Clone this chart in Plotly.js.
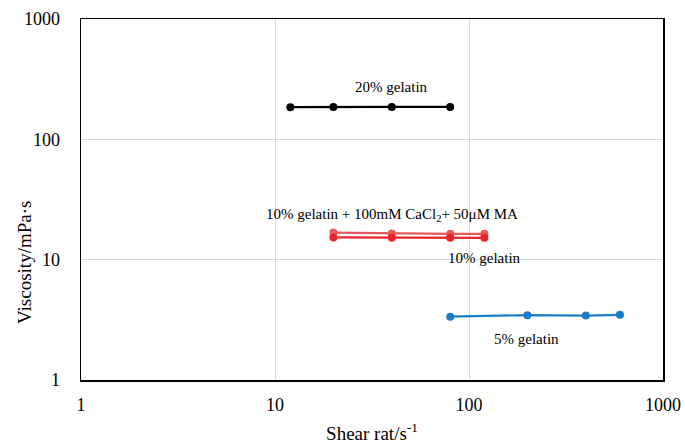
<!DOCTYPE html>
<html><head><meta charset="utf-8">
<script src="https://cdn.plot.ly/plotly-3.0.1.min.js"></script>
<style>body{margin:0;background:#fff}#c{width:685px;height:444px}</style>
</head><body><div id="c"></div>
<script>
const g20_x = [12, 20, 40, 80];
const g20_y = [185, 186, 186, 186];
const g10ma_x = [20, 40, 80, 120];
const g10ma_y = [16.8, 16.5, 16.4, 16.4];
const g10_x = [20, 40, 80, 120];
const g10_y = [15.3, 15.2, 15.2, 15.2];
const g5_x = [80, 200, 400, 600];
const g5_y = [3.36, 3.46, 3.43, 3.48];
const xTicks = [1, 10, 100, 1000];
const yTicks = [1, 10, 100, 1000];

const font = {family: '"Liberation Serif", "Times New Roman", serif', color: '#000'};
function f(s) { return Object.assign({size: s}, font); }
function tr(x, y, color) {
  return {x: x, y: y, type: 'scatter', mode: 'lines+markers',
    line: {color: color, width: 2.2}, marker: {color: color, size: 8}, showlegend: false};
}
const data = [
  tr(g20_x, g20_y, '#000000'),
  tr(g10ma_x, g10ma_y, '#E35B5B'),
  tr(g10_x, g10_y, '#E8242A'),
  tr(g5_x, g5_y, '#1A7CC7')
];
const layout = {
  width: 685, height: 444,
  margin: {l: 81, r: 22, t: 19, b: 64},
  paper_bgcolor: '#fff', plot_bgcolor: '#fff',
  font: f(16),
  xaxis: {type: 'log', range: [0, 3], tickvals: xTicks, ticktext: xTicks.map(String),
    showgrid: true, gridcolor: '#d9d9d9', gridwidth: 1, zeroline: false,
    showline: true, linecolor: '#000', linewidth: 1.5, mirror: true, ticks: '',
    tickfont: f(18), ticklabelstandoff: 8, automargin: false,
    title: {text: 'Shear rat/s<sup>-1</sup>', font: f(19), standoff: 12}},
  yaxis: {type: 'log', range: [0, 3], tickvals: yTicks, ticktext: yTicks.map(String),
    showgrid: true, gridcolor: '#d9d9d9', gridwidth: 1, zeroline: false,
    showline: true, linecolor: '#000', linewidth: 1.5, mirror: true, ticks: '',
    tickfont: f(18), ticklabelstandoff: 16, automargin: false},
  annotations: [
    {xref: 'paper', yref: 'paper', x: (24 - 81) / 582, y: (380 - 263) / 361, textangle: -90,
     text: 'Viscosity/mPa·s', showarrow: false, font: f(19), xanchor: 'center', yanchor: 'middle'},
    {x: Math.log10(40), y: Math.log10(270), text: '20% gelatin', showarrow: false, font: f(15)},
    {x: Math.log10(40), y: Math.log10(23.5), text: '10% gelatin + 100mM CaCl<sub>2</sub>+ 50μM MA', showarrow: false, font: f(15)},
    {x: Math.log10(120), y: Math.log10(10.3), text: '10% gelatin', showarrow: false, font: f(15)},
    {x: Math.log10(198), y: Math.log10(2.19), text: '5% gelatin', showarrow: false, font: f(15)}
  ]
};
Plotly.newPlot('c', data, layout, {displayModeBar: false, staticPlot: true});
</script></body></html>
